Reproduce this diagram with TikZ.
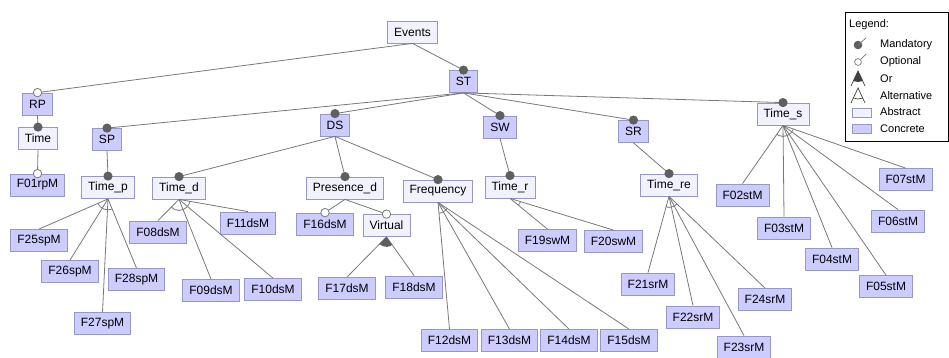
\documentclass[tikz,border=0pt]{standalone}
\usepackage{fontspec}
\setmainfont{Liberation Sans}
\usetikzlibrary{calc}
\definecolor{concfill}{RGB}{204,204,255}
\definecolor{abstfill}{RGB}{242,242,255}
\definecolor{boxline}{RGB}{150,150,200}
\definecolor{edgecol}{RGB}{120,120,120}
\definecolor{dotcol}{RGB}{95,95,95}
\newcommand{\altarc}[3]{\begin{scope}\clip (#1.south) -- ($(#1.south)!45pt!(#2.north)$) -- ($(#1.south)!45pt!(#3.north)$) -- cycle; \draw[edge] (#1.south) circle (11pt);\end{scope}}
\newcommand{\orarc}[3]{\begin{scope}\clip (#1.south) -- ($(#1.south)!45pt!(#2.north)$) -- ($(#1.south)!45pt!(#3.north)$) -- cycle; \fill[dotcol] (#1.south) circle (10pt);\end{scope}}
\newcommand{\mandot}[1]{\fill[dotcol] (#1.north) circle (4.6pt);}
\newcommand{\optdot}[1]{\filldraw[fill=white,draw=edgecol,line width=0.8pt] (#1.north) circle (4.2pt);}
\begin{document}
\begin{tikzpicture}[x=1pt,y=-1pt,
 feat/.style={draw=boxline, line width=0.8pt, minimum height=22pt, inner xsep=6.5pt, inner ysep=2pt, font=\fontsize{12}{14}\selectfont, anchor=center},
 conc/.style={feat, fill=concfill},
 abst/.style={feat, fill=abstfill},
 edge/.style={draw=edgecol, line width=0.8pt},
 legtext/.style={anchor=west, inner sep=0pt, font=\fontsize{11}{13}\selectfont},
]
\useasboundingbox (0,0) rectangle (949,358);

% nodes
\node[abst] (Events) at (412.5,32) {Events};
\node[conc] (ST) at (463.5,81.5) {ST};
\node[conc] (RP) at (37.5,104) {RP};
\node[abst] (Time) at (38,138.5) {Time};
\node[conc] (F01) at (37.5,185) {F01rpM};
\node[conc] (SP) at (107,139.5) {SP};
\node[abst] (Timep) at (108,187.5) {Time\_p};
\node[conc] (DS) at (335,125) {DS};
\node[conc] (SW) at (500,127) {SW};
\node[conc] (SR) at (633.5,131.5) {SR};
\node[abst] (Times) at (783,114) {Time\_s};
\node[abst] (Timed) at (179,188) {Time\_d};
\node[abst] (Pres) at (345,188) {Presence\_d};
\node[abst] (Freq) at (438,191) {Frequency};
\node[abst] (Timer) at (510,187) {Time\_r};
\node[abst] (Timere) at (669,185) {Time\_re};
\node[conc] (F16) at (325,224) {F16dsM};
\node[abst] (Virt) at (386.5,225.5) {Virtual};
\node[conc] (F17) at (347,288.5) {F17dsM};
\node[conc] (F18) at (414,287) {F18dsM};
\node[conc] (F12) at (449.5,340.5) {F12dsM};
\node[conc] (F13) at (509.5,340.5) {F13dsM};
\node[conc] (F14) at (569,340.5) {F14dsM};
\node[conc] (F15) at (629,340.5) {F15dsM};
\node[conc] (F19) at (547.5,240.5) {F19swM};
\node[conc] (F20) at (613.5,241.5) {F20swM};
\node[conc] (F21) at (648,284) {F21srM};
\node[conc] (F22) at (693,317) {F22srM};
\node[conc] (F23) at (744,347) {F23srM};
\node[conc] (F24) at (765,299.5) {F24srM};
\node[conc] (F02) at (742.5,195) {F02stM};
\node[conc] (F03) at (784,228) {F03stM};
\node[conc] (F04) at (832,259) {F04stM};
\node[conc] (F05) at (886,286.5) {F05stM};
\node[conc] (F06) at (898,221) {F06stM};
\node[conc] (F07) at (905.5,179.5) {F07stM};
\node[conc] (F08) at (158,232) {F08dsM};
\node[conc] (F09) at (211,290.5) {F09dsM};
\node[conc] (F10) at (273,289.5) {F10dsM};
\node[conc] (F11) at (248,223) {F11dsM};
\node[conc] (F25) at (39,240.5) {F25spM};
\node[conc] (F26) at (70,271.5) {F26spM};
\node[conc] (F27) at (102.5,323.5) {F27spM};
\node[conc] (F28) at (136.5,279.5) {F28spM};

% edges
\foreach \p/\c in {Events/RP, Events/ST, RP/Time, Time/F01, ST/SP, ST/DS, ST/SW, ST/SR, ST/Times,
  SP/Timep, DS/Timed, DS/Pres, DS/Freq, SW/Timer, SR/Timere, Pres/F16, Pres/Virt,
  Virt/F17, Virt/F18, Freq/F12, Freq/F13, Freq/F14, Freq/F15, Timer/F19, Timer/F20,
  Timere/F21, Timere/F22, Timere/F23, Timere/F24,
  Times/F02, Times/F03, Times/F04, Times/F05, Times/F06, Times/F07,
  Timed/F08, Timed/F09, Timed/F10, Timed/F11,
  Timep/F25, Timep/F26, Timep/F27, Timep/F28}
  \draw[edge] (\p.south) -- (\c.north);

% group arcs
\altarc{Timep}{F25}{F28}
\altarc{Timed}{F08}{F11}
\altarc{Freq}{F12}{F15}
\altarc{Timer}{F19}{F20}
\altarc{Timere}{F21}{F24}
\altarc{Times}{F02}{F07}
\orarc{Virt}{F17}{F18}

% mandatory / optional markers
\mandot{ST}\mandot{Time}\mandot{SP}\mandot{Timep}\mandot{DS}\mandot{SW}\mandot{SR}
\mandot{Times}\mandot{Timed}\mandot{Pres}\mandot{Freq}\mandot{Timer}\mandot{Timere}
\optdot{RP}\optdot{F01}\optdot{F16}\optdot{Virt}

% legend
\draw[black, line width=0.9pt] (845.5,12.5) rectangle (948.5,141.5);
\node[legtext] (lgt) at (849,25) {Legend:};
\fill[dotcol] (858,45) circle (4.3pt);
\draw[edgecol, line width=0.7pt] (858,45) -- (866,38);
\node[legtext] (lgm) at (880,45) {Mandatory};
\draw[edgecol, line width=0.7pt] (860.5,59.5) -- (866,54);
\filldraw[fill=white, draw=edgecol, line width=0.7pt] (858,62) circle (3.4pt);
\node[legtext] (lgo) at (880,62) {Optional};
\begin{scope}
\clip (858,71) -- (850,87) -- (866,87) -- cycle;
\fill[black!75] (858,71) circle (11pt);
\end{scope}
\draw[black!75, line width=0.7pt] (851,86) -- (858,71) -- (865,86);
\node[legtext] (lgr) at (880,79) {Or};
\draw[black!75, line width=0.7pt] (851,103) -- (858,88) -- (865,103);
\begin{scope}
\clip (858,88) -- (850,104) -- (866,104) -- cycle;
\draw[black!75, line width=0.7pt] (858,88) circle (11pt);
\end{scope}
\node[legtext] (lga) at (880,96) {Alternative};
\filldraw[fill=abstfill, draw=boxline, line width=0.7pt] (852,108) rectangle (871,117);
\node[legtext] (lgab) at (880,112) {Abstract};
\filldraw[fill=concfill, draw=boxline, line width=0.7pt] (852,124) rectangle (871,133);
\node[legtext] (lgc) at (880,129) {Concrete};
\end{tikzpicture}
\end{document}
